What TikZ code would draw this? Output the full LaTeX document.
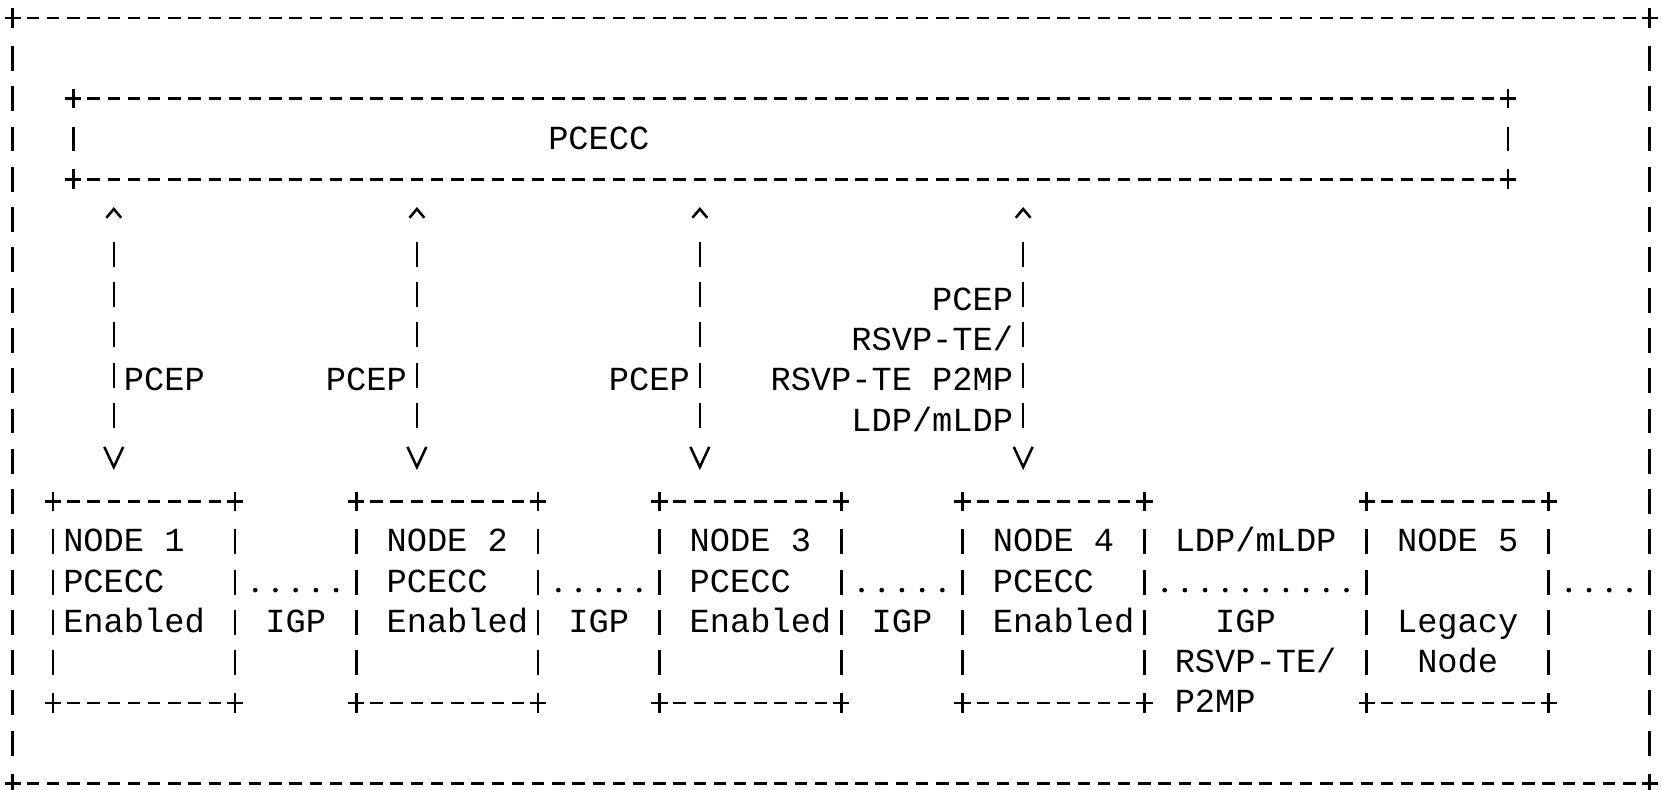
\documentclass[tikz,border=0pt]{standalone}
\usepackage{fontspec}
\setmonofont{Liberation Mono}
\usetikzlibrary{arrows.meta,positioning}
\tikzset{
  asciibox/.style={inner sep=0pt, outer sep=0pt, minimum width=54pt, minimum height=59.8pt},
  hedge/.style={line width=0.75pt, dash pattern=on 3.7pt off 2.3pt, dash phase=1.85pt},
  vedge/.style={line width=0.75pt, dash pattern=on 7.4pt off 4.56pt, dash phase=9.68pt},
  cross/.style={line width=0.75pt},
  lbl/.style={font=\ttfamily, inner sep=0pt, outer sep=0pt},
  pcep/.style={line width=0.75pt,
    dash pattern=on 0pt off 9.36pt on 7.4pt off 4.56pt on 7.4pt off 4.56pt on 7.4pt off 4.56pt on 7.4pt off 4.56pt on 7.4pt off 30pt,
    shorten <=8.25pt, shorten >=9.33pt,
    {Straight Barb[length=2.6pt,width=4.4pt]}-{Straight Barb[length=6pt,width=5.6pt]}},
  igp/.style={line width=1.4pt, line cap=round, dash pattern=on 0pt off 6pt, shorten <=6pt, shorten >=5.9pt}
}
\begin{document}
\begin{tikzpicture}[x=6pt, y=-11.96pt]
\useasboundingbox (-0.63,-0.45) rectangle (81.61,19.15);
\node[asciibox, minimum width=486pt, minimum height=227.24pt] (outer) at (40.5,9.5) {};
\node[asciibox, minimum width=426pt, minimum height=23.92pt] (pcecc) at (38.5,3) {};
\node[asciibox] (n1) at (6.5,14.5) {};
\node[asciibox, right=36pt of n1] (n2) {};
\node[asciibox, right=36pt of n2] (n3) {};
\node[asciibox, right=36pt of n3] (n4) {};
\node[asciibox, right=66pt of n4] (n5) {};
\foreach \b in {outer,pcecc,n1,n2,n3,n4,n5} {
  \draw[hedge] (\b.north west) -- (\b.north east) (\b.south west) -- (\b.south east);
  \draw[vedge] ([yshift=-5.98pt]\b.north west) -- ([yshift=5.98pt]\b.south west)
    ([yshift=-5.98pt]\b.north east) -- ([yshift=5.98pt]\b.south east);
  \foreach \c in {north west,north east,south west,south east}
    \draw[cross] (\b.\c) +(-2.4pt,0) -- +(2.4pt,0) +(0,-2.9pt) -- +(0,2.9pt);
}
\node[lbl, anchor=base west] (pcecc-name) at ([xshift=141pt, yshift=-3pt]pcecc.west) {PCECC};
\foreach \b/\dx/\k in {n1/3pt/1, n2/9pt/2, n3/9pt/3, n4/9pt/4} {
  \node[lbl, anchor=base west] (\b-name) at ([xshift=\dx, yshift=-14.96pt]\b.north west) {NODE \k};
  \node[lbl, anchor=base west] (\b-role) at ([yshift=-11.96pt]\b-name.base west) {PCECC};
  \node[lbl, anchor=base west] (\b-state) at ([yshift=-11.96pt]\b-role.base west) {Enabled};
}
\node[lbl, anchor=base west] (n5-name) at ([xshift=9pt, yshift=-14.96pt]n5.north west) {NODE 5};
\node[lbl, anchor=base west] (n5-kind) at ([yshift=-23.92pt]n5-name.base west) {Legacy};
\node[lbl, anchor=base west] (n5-role) at ([xshift=6pt, yshift=-11.96pt]n5-kind.base west) {Node};
\foreach \b/\dx in {n1/18pt, n2/18pt, n3/12pt, n4/18pt}
  \coordinate (\b-top) at ([xshift=\dx]\b.north west);
\draw[pcep] (n1-top |- pcecc.south) -- node[lbl, pos=0.625, anchor=base west, xshift=3pt, yshift=-3pt] (p1) {PCEP} (n1-top);
\draw[pcep] (n2-top |- pcecc.south) -- node[lbl, pos=0.625, anchor=base east, xshift=-3pt, yshift=-3pt] (p2) {PCEP} (n2-top);
\draw[pcep] (n3-top |- pcecc.south) -- node[lbl, pos=0.625, anchor=base east, xshift=-3pt, yshift=-3pt] (p3) {PCEP} (n3-top);
\draw[pcep] (n4-top |- pcecc.south) -- (n4-top)
  node[lbl, pos=0.375, anchor=base east, xshift=-3pt, yshift=-3pt] (p4a) {PCEP}
  node[lbl, pos=0.5, anchor=base east, xshift=-3pt, yshift=-3pt] (p4b) {RSVP-TE/}
  node[lbl, pos=0.625, anchor=base east, xshift=-3pt, yshift=-3pt] (p4c) {RSVP-TE P2MP}
  node[lbl, pos=0.75, anchor=base east, xshift=-3pt, yshift=-3pt] (p4d) {LDP/mLDP};
\draw[igp] ([yshift=3.6pt]n1.east) -- node[lbl, anchor=base, yshift=-12.56pt] (igp12) {IGP} ([yshift=3.6pt]n2.west);
\draw[igp] ([yshift=3.6pt]n2.east) -- node[lbl, anchor=base, yshift=-12.56pt] (igp23) {IGP} ([yshift=3.6pt]n3.west);
\draw[igp] ([yshift=3.6pt]n3.east) -- node[lbl, anchor=base, yshift=-12.56pt] (igp34) {IGP} ([yshift=3.6pt]n4.west);
\draw[igp] ([yshift=3.6pt]n4.east) -- ([yshift=3.6pt]n5.west)
  node[lbl, at start, anchor=base west, xshift=9pt, yshift=11.36pt] (l45a) {LDP/mLDP}
  node[lbl, at start, anchor=base west, xshift=21pt, yshift=-12.56pt] (l45b) {IGP}
  node[lbl, at start, anchor=base west, xshift=9pt, yshift=-24.52pt] (l45c) {RSVP-TE/}
  node[lbl, at start, anchor=base west, xshift=9pt, yshift=-36.48pt] (l45d) {P2MP};
\coordinate (n5-out) at ([yshift=3.6pt]n5.east);
\draw[igp] (n5-out) -- (n5-out -| outer.east);
\end{tikzpicture}
\end{document}
